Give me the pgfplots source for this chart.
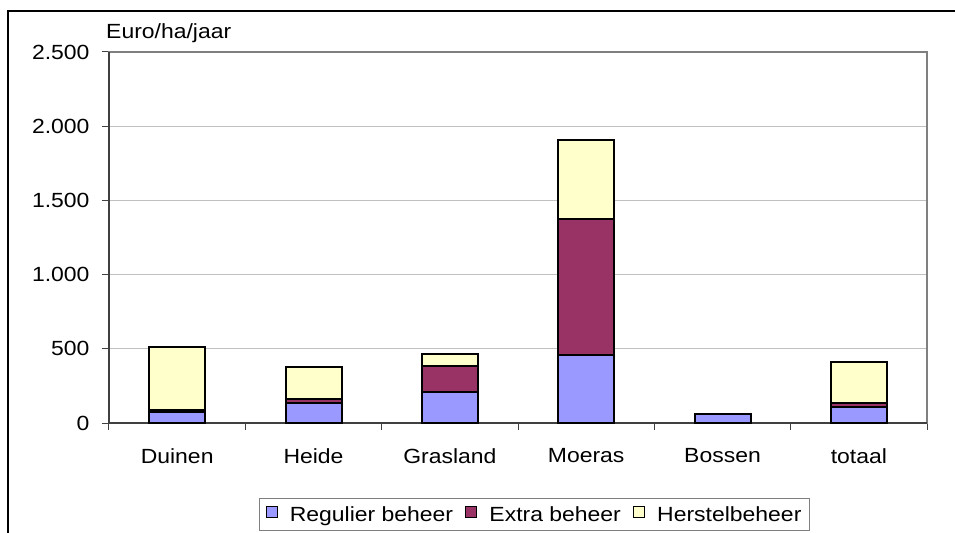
\documentclass[border=0pt]{standalone}
\usepackage{fontspec}
\setmainfont{Liberation Sans}[FakeStretch=1.12]
\usepackage{pgfplots}
\pgfplotsset{compat=1.18}
\definecolor{reg}{HTML}{9999FF}
\definecolor{extra}{HTML}{993366}
\definecolor{herst}{HTML}{FFFFCC}
\definecolor{frame}{HTML}{808080}
\definecolor{darkax}{HTML}{404040}
\definecolor{gridc}{HTML}{C0C0C0}
\begin{document}
\begin{tikzpicture}
\useasboundingbox (-109bp,-110bp) rectangle (846bp,423bp);
\clip (-109bp,-110bp) rectangle (846bp,423bp);
\draw[line width=2.2bp] (-101bp,-150bp) -- (-101bp,412bp) -- (900bp,412bp);
\begin{axis}[
  at={(0,0)}, anchor=south west,
  scale only axis, width=818bp, height=371bp,
  ybar stacked, bar width=56bp,
  xmin=-0.5, xmax=5.5, ymin=0, ymax=2500,
  xtick={0,...,5},
  xticklabels={Duinen,Heide,Grasland,Moeras,Bossen,totaal},
  minor xtick={-0.5,0.5,...,5.5},
  ytick={0,500,...,2500},
  tick align=outside, tick pos=left,
  major tick length=7bp, minor tick length=7bp,
  major x tick style={draw=none},
  minor x tick style={draw=darkax, line width=1bp},
  major y tick style={draw=darkax, line width=1bp},
  ymajorgrids, grid style={draw=gridc, line width=1bp},
  axis line style={draw=frame, line width=1.3bp},
  font=\fontsize{20.5bp}{24bp}\selectfont,
  /pgf/number format/assume math mode=true,
  yticklabel style={/pgf/number format/1000 sep={.}, xshift=-9bp},
  xticklabel style={yshift=-15bp},
  every axis plot/.append style={draw=black, line width=2bp},
  legend style={at={(axis description cs:0.1834,-0.2022)}, anchor=north west,
    legend columns=3, draw=frame, line width=1bp, fill=white,
    font=\fontsize{20.5bp}{24bp}\selectfont,
    inner xsep=6bp, inner ysep=6bp,
    /tikz/every odd column/.append style={column sep=10bp},
    /tikz/every even column/.append style={column sep=10bp}},
  legend image code/.code={\draw[#1, line width=1.3bp] (0bp,-3bp) rectangle (11bp,8bp);},
  clip=false,
]
\addplot[fill=reg] coordinates {(0,72) (1,134) (2,212) (3,461) (4,63) (5,108)};
\addplot[fill=extra] coordinates {(0,18) (1,26) (2,174) (3,913) (4,0) (5,27)};
\addplot[fill=herst] coordinates {(0,425) (1,217) (2,76) (3,530) (4,0) (5,279)};
\legend{Regulier beheer,Extra beheer,Herstelbeheer}
\node[anchor=base west, inner sep=0pt, font=\fontsize{20.5bp}{24bp}\selectfont, xshift=-3bp, yshift=13bp] at (axis description cs:0,1) {Euro/ha/jaar};
\draw[darkax, line width=1.3bp] (axis description cs:0,1) -- (axis description cs:0,0) -- (axis description cs:1,0);
\end{axis}
\end{tikzpicture}
\end{document}
